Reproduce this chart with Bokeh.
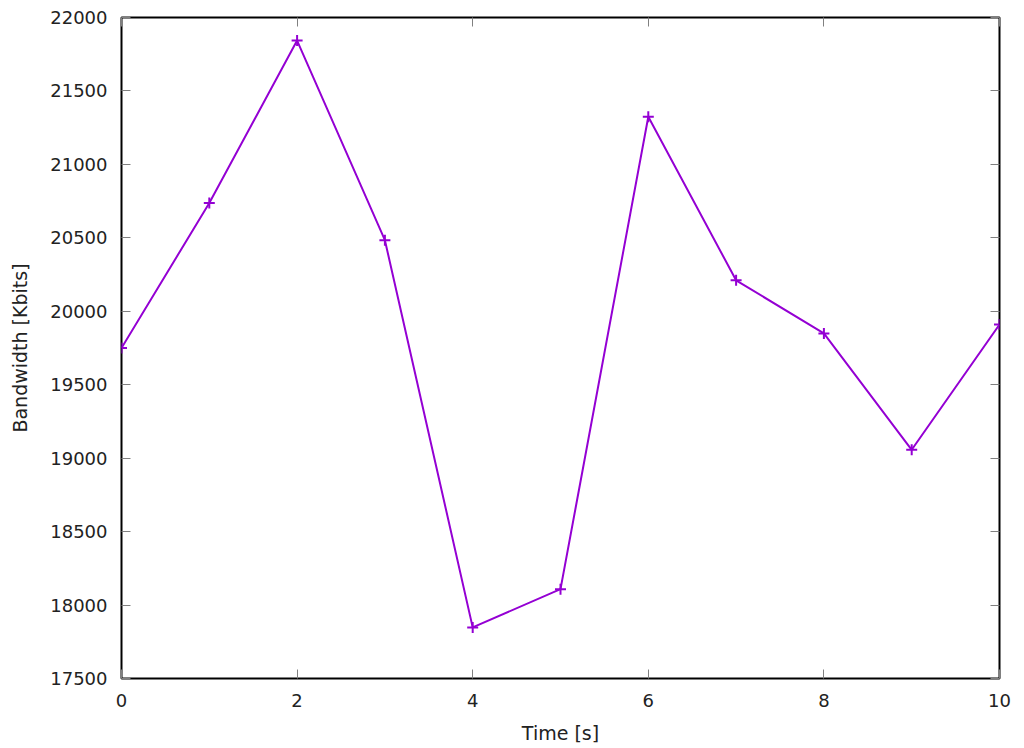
from bokeh.plotting import figure
from bokeh.models import Range1d, LinearAxis, FixedTicker
from bokeh.embed import file_html
from bokeh.resources import INLINE

time_s = [0, 1, 2, 3, 4, 5, 6, 7, 8, 9, 10]
bandwidth_kbits = [19750, 20737, 21843, 20484, 17848, 18108, 21324, 20211, 19849, 19057, 19910]
x_ticks = [0, 2, 4, 6, 8, 10]
y_ticks = [17500, 18000, 18500, 19000, 19500, 20000, 20500, 21000, 21500, 22000]

FONT = "DejaVu Sans"
COLOR = "#9400d3"

p = figure(width=1016, height=740, output_backend="svg", toolbar_location=None,
           x_range=Range1d(0, 10), y_range=Range1d(17500, 22000),
           x_axis_label="Time [s]", y_axis_label="Bandwidth [Kbits]",
           min_border_left=121, min_border_right=17, min_border_top=17, min_border_bottom=62)
p.frame_width = 878
p.frame_height = 661
p.xgrid.visible = False
p.ygrid.visible = False
p.outline_line_color = "black"
p.outline_line_width = 2
p.background_fill_color = "white"
p.border_fill_color = "white"

for ax in (p.xaxis[0], p.yaxis[0]):
    ax.axis_line_color = None
    ax.major_tick_in = 9
    ax.major_tick_out = 0
    ax.major_tick_line_color = "#808080"
    ax.major_tick_line_width = 1
    ax.minor_tick_line_color = None
    ax.major_label_text_font = FONT
    ax.major_label_text_font_size = "18px"
    ax.major_label_text_color = "#222222"
    ax.axis_label_text_font = FONT
    ax.axis_label_text_font_size = "19px"
    ax.axis_label_text_font_style = "normal"
    ax.axis_label_text_color = "#222222"

p.xaxis[0].ticker = FixedTicker(ticks=x_ticks)
p.yaxis[0].ticker = FixedTicker(ticks=y_ticks)
p.xaxis[0].major_label_standoff = 15
p.yaxis[0].major_label_standoff = 14
p.xaxis[0].axis_label_standoff = 12
p.yaxis[0].axis_label_standoff = 16

top = LinearAxis(ticker=FixedTicker(ticks=x_ticks))
right = LinearAxis(ticker=FixedTicker(ticks=y_ticks))
for ax in (top, right):
    ax.axis_line_color = None
    ax.major_tick_in = 9
    ax.major_tick_out = 0
    ax.major_tick_line_color = "#808080"
    ax.minor_tick_line_color = None
    ax.major_label_text_font_size = "0px"
    ax.major_label_text_color = None
    ax.major_label_standoff = 0
p.add_layout(top, "above")
p.add_layout(right, "right")

p.line(time_s, bandwidth_kbits, line_color=COLOR, line_width=2)
p.scatter(time_s, bandwidth_kbits, marker="cross", size=11, line_color=COLOR, line_width=2)

open("out.html", "w").write(file_html(p, INLINE))
